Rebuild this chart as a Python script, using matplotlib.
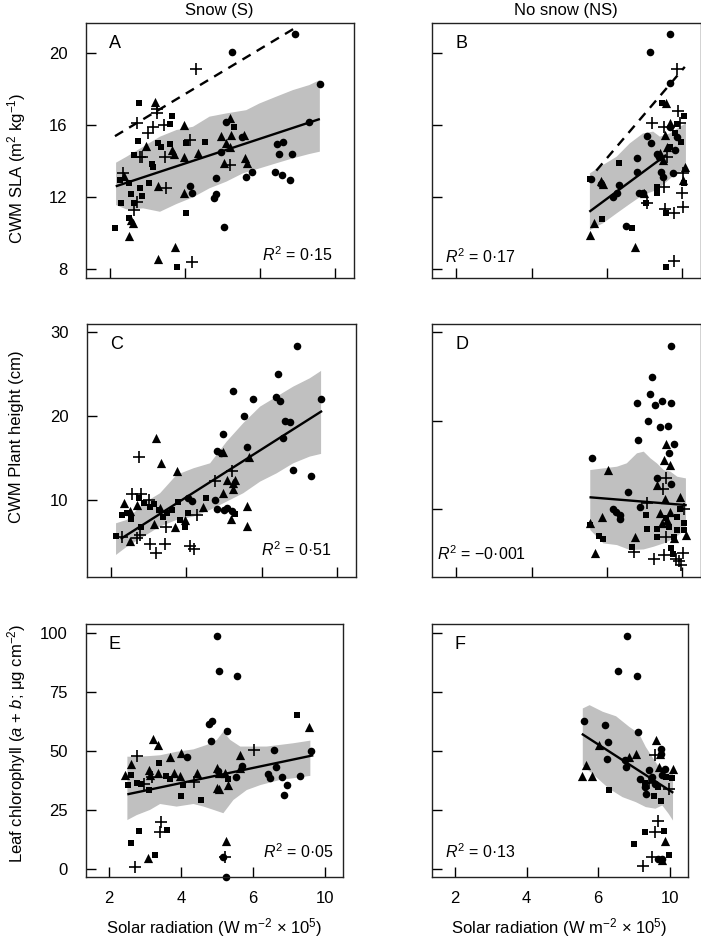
import matplotlib
matplotlib.use("Agg")
import matplotlib.pyplot as plt

plt.rcParams['font.family'] = ['Liberation Sans', 'DejaVu Sans']
plt.rcParams['mathtext.fontset'] = 'custom'
plt.rcParams['mathtext.rm'] = 'Liberation Sans'
plt.rcParams['mathtext.it'] = 'Liberation Sans:italic'
plt.rcParams['mathtext.bf'] = 'Liberation Sans:bold'

# x axis: positions 2, 4, 6, 8 carry the printed labels 2, 4, 6, 10
X_TICKS = [2, 4, 6, 8]
X_TICKLABELS = ['2', '4', '6', '10']

# ---- panel A : SLA, snow ----
A_CIRC = [(6.94, 21.02), (5.24, 20.06), (7.59, 18.28), (7.29, 16.18), (5.10, 16.14), (6.44, 14.97),
          (6.62, 15.07), (6.50, 14.38), (6.85, 14.38), (5.79, 13.39), (5.61, 13.10), (6.39, 13.39),
          (6.58, 13.21), (6.80, 12.95), (4.81, 13.08), (4.12, 12.63), (4.18, 12.21), (4.83, 12.15),
          (4.76, 11.95), (5.04, 10.36), (4.95, 14.5), (5.52, 15.35)]
A_SQ = [(2.77, 17.19), (3.66, 16.49), (3.59, 16.05), (2.75, 15.09), (3.28, 14.98), (3.37, 14.79),
        (3.59, 14.94), (4.02, 14.98), (4.54, 15.03), (2.65, 14.31), (3.11, 13.83), (3.15, 13.69),
        (2.27, 12.95), (2.51, 12.76), (3.04, 12.80), (2.80, 12.49), (2.55, 12.17), (2.84, 12.06),
        (2.30, 11.66), (2.64, 11.69), (2.51, 10.83), (2.13, 10.29), (4.02, 11.10), (3.79, 8.15),
        (5.29, 15.86)]
A_TRI = [(3.21, 17.25), (3.96, 15.99), (2.96, 14.82), (3.65, 14.61), (3.70, 14.38), (4.33, 14.42),
         (3.98, 14.24), (5.20, 16.36), (4.96, 15.38), (5.08, 15.01), (5.23, 15.44), (5.20, 14.79),
         (5.04, 13.87), (5.58, 15.44), (5.59, 14.17), (5.65, 13.87), (2.37, 13.17), (3.29, 12.63),
         (3.98, 12.21), (2.55, 10.74), (2.62, 10.59), (2.50, 9.85), (3.29, 8.55), (3.72, 9.22)]
A_PLUS = [(4.30, 19.08), (3.24, 16.68), (3.24, 16.9), (2.71, 16.09), (3.15, 15.90), (3.02, 15.57),
          (3.43, 15.99), (4.12, 15.16), (2.80, 14.24), (2.85, 14.24), (3.46, 14.24), (2.35, 13.32),
          (3.50, 12.49), (2.73, 11.75), (2.64, 11.29), (4.17, 8.42), (5.20, 13.78)]
A_FIT = [(2.18, 12.62), (7.56, 16.31)]
A_DASH = [(2.13, 15.38), (6.91, 21.35)]
A_BAND_HI = [(2.16, 13.91), (2.44, 14.24), (2.88, 14.79), (3.33, 15.35), (3.77, 15.72), (4.21, 15.90),
             (4.65, 16.46), (5.10, 16.64), (5.63, 16.82), (5.98, 17.19), (6.42, 17.56), (6.87, 17.93),
             (7.31, 18.21), (7.59, 18.49)]
A_BAND_LO = [(2.16, 11.56), (2.44, 11.32), (2.88, 11.38), (3.33, 11.19), (3.77, 11.62), (4.21, 11.99),
             (4.65, 12.49), (5.10, 12.86), (5.54, 13.32), (5.98, 13.59), (6.42, 13.87), (6.87, 14.15),
             (7.31, 14.39), (7.59, 14.52)]

# ---- panel B : SLA, no snow ----
B_CIRC = [(7.69, 21.02), (7.14, 20.06), (7.69, 18.30), (7.07, 15.38), (7.16, 15.01), (6.79, 14.17),
          (7.32, 14.38), (7.39, 14.24), (6.31, 12.65), (6.17, 12.03), (6.26, 12.21), (6.79, 13.41),
          (6.86, 12.21), (6.95, 12.21), (6.52, 10.40), (7.45, 13.41), (7.50, 13.13), (7.76, 13.32),
          (7.82, 14.61), (7.69, 15.90), (7.85, 15.35), (5.58, 13.02), (5.85, 12.75)]
B_SQ = [(5.55, 13.02), (6.31, 13.87), (7.46, 17.23), (8.05, 16.49), (7.85, 16.05), (7.96, 15.07),
        (7.81, 15.53), (7.32, 12.58), (7.32, 12.21), (7.05, 11.69), (7.57, 11.10), (8.06, 12.80),
        (5.88, 10.81), (6.68, 10.29), (7.57, 8.15), (7.67, 14.79)]
B_TRI = [(7.57, 17.23), (7.67, 16.09), (7.55, 15.42), (7.59, 14.79), (7.41, 14.42), (7.50, 14.06),
         (8.08, 13.69), (8.03, 12.95), (5.85, 12.91), (5.90, 12.75), (6.98, 12.21), (5.65, 10.55),
         (5.55, 9.90), (6.75, 9.26)]
B_PLUS = [(7.87, 19.08), (7.90, 16.77), (7.21, 16.12), (7.51, 15.90), (7.94, 16.12), (7.59, 14.24),
          (7.51, 12.58), (8.03, 13.32), (7.99, 12.21), (7.07, 11.66), (7.55, 11.32), (7.78, 11.10),
          (8.03, 11.43), (7.78, 8.48)]
B_FIT = [(5.56, 11.23), (7.55, 14.30)]
B_DASH = [(5.72, 13.47), (8.07, 19.22)]
B_BAND_HI = [(5.55, 13.32), (5.90, 13.78), (6.26, 14.24), (6.61, 14.98), (6.96, 15.53), (7.23, 15.63),
             (7.41, 15.35), (7.67, 15.53), (7.94, 15.90), (8.10, 16.09)]
B_BAND_LO = [(5.55, 10.18), (5.90, 10.55), (6.26, 11.10), (6.61, 11.62), (6.96, 12.12), (7.32, 12.39),
             (7.59, 12.86), (7.85, 13.32), (8.10, 13.59)]

# ---- panel C : height, snow ----
C_CIRC = [(6.93, 28.37), (6.44, 25.0), (5.23, 23.06), (5.76, 22.06), (6.38, 22.26), (6.49, 21.83),
          (7.58, 22.02), (5.53, 20.04), (4.98, 17.90), (4.81, 15.83), (4.93, 15.67), (5.62, 16.39),
          (6.61, 19.48), (6.75, 19.37), (6.56, 17.42), (6.84, 13.61), (7.30, 12.94), (4.76, 10.04),
          (4.81, 8.97), (5.07, 9.05), (5.00, 8.9), (4.05, 10.24), (4.14, 9.96), (5.21, 8.7)]
C_SQ = [(2.13, 5.79), (2.28, 8.25), (2.42, 8.45), (2.52, 7.74), (2.75, 10.24), (2.79, 6.87),
        (2.86, 9.64), (3.04, 9.25), (3.13, 9.5), (3.28, 8.85), (3.39, 8.06), (3.48, 8.53),
        (3.61, 8.85), (3.79, 9.80), (3.96, 6.87), (4.03, 8.53), (4.52, 10.24), (5.28, 8.33), (3.83, 7.66)]
C_TRI = [(3.19, 17.46), (3.33, 14.48), (3.76, 13.53), (2.33, 9.64), (2.49, 8.73), (2.68, 9.44),
         (3.14, 7.18), (3.30, 9.05), (3.69, 6.87), (3.97, 7.66), (4.45, 9.25), (4.96, 15.71),
         (5.67, 15.12), (5.07, 12.42), (5.23, 12.10), (5.28, 12.42), (4.98, 10.83), (5.23, 11.35),
         (5.62, 9.33), (5.60, 6.94), (5.18, 7.74), (2.50, 5.20)]
C_PLUS = [(2.75, 15.12), (2.55, 10.75), (2.80, 10.75), (3.0, 10.04), (2.29, 5.67), (2.70, 5.47),
          (3.04, 4.80), (3.19, 3.77), (3.43, 4.80), (3.46, 6.87), (4.10, 4.56), (4.19, 4.17),
          (4.27, 8.21), (4.77, 12.34), (5.20, 13.53), (2.77, 5.87)]
C_FIT = [(2.28, 5.48), (7.58, 20.56)]
C_BAND_HI = [(2.13, 7.26), (2.42, 7.66), (2.86, 9.64), (3.30, 10.83), (3.74, 13.02), (4.19, 13.81),
             (4.63, 14.40), (5.07, 16.98), (5.51, 19.17), (5.96, 21.15), (6.40, 22.34), (6.84, 23.53),
             (7.28, 24.52), (7.58, 25.40)]
C_BAND_LO = [(2.13, 3.49), (2.42, 4.48), (2.86, 5.67), (3.30, 6.87), (3.74, 7.66), (4.19, 8.06),
             (4.63, 8.85), (5.07, 9.84), (5.51, 10.83), (5.96, 12.22), (6.40, 13.21), (6.84, 14.40),
             (7.28, 15.20), (7.58, 15.52)]

# ---- panel D : height, no snow ----
D_CIRC = [(7.71, 28.46), (7.19, 24.92), (7.14, 23.0), (6.80, 21.98), (7.27, 21.79), (7.47, 22.28),
          (7.71, 21.98), (7.08, 20.0), (7.41, 19.34), (7.63, 19.45), (6.84, 17.83), (7.78, 17.38),
          (7.65, 16.33), (5.61, 15.76), (7.71, 12.86), (7.33, 13.50), (6.57, 12.0), (6.16, 10.08),
          (6.24, 9.74), (6.34, 8.87), (6.34, 9.32), (6.89, 10.23)]
D_SQ = [(5.56, 8.23), (5.80, 6.99), (5.91, 6.61), (6.66, 5.71), (7.07, 7.82), (7.03, 9.32),
        (7.33, 7.74), (7.33, 6.84), (7.71, 5.59), (7.64, 8.0), (7.78, 6.84), (7.85, 7.67),
        (8.04, 8.42), (8.06, 7.67), (7.58, 9.0), (7.76, 4.95), (7.94, 10.0), (7.87, 9.17)]
D_TRI = [(6.04, 14.44), (5.56, 8.42), (5.88, 9.17), (5.68, 5.03), (6.76, 6.84), (7.58, 17.38),
         (7.52, 15.57), (7.67, 15.01), (7.32, 12.75), (7.55, 11.21), (7.94, 11.43), (7.42, 9.62),
         (7.69, 9.74), (7.60, 8.79), (7.47, 8.42), (8.10, 7.10), (7.78, 6.72)]
D_PLUS = [(7.56, 13.58), (7.49, 12.34), (7.07, 10.68), (8.04, 10.0), (7.56, 6.91), (6.73, 5.18),
          (7.24, 4.35), (7.51, 4.80), (7.83, 4.35), (7.97, 3.67), (8.03, 5.03), (7.92, 4.2)]
D_FIT = [(5.57, 11.36), (8.09, 10.49)]
D_BAND_HI = [(5.56, 14.44), (5.91, 14.63), (6.27, 14.82), (6.53, 15.20), (6.80, 16.33), (6.98, 16.52),
             (7.16, 15.76), (7.33, 15.20), (7.51, 14.44), (7.69, 14.26), (7.87, 13.69), (8.10, 13.50)]
D_BAND_LO = [(5.56, 7.67), (5.91, 6.16), (6.27, 5.97), (6.62, 5.40), (6.98, 5.48), (7.24, 5.78),
             (7.51, 6.16), (7.78, 6.72), (7.96, 7.29), (8.10, 7.67)]

# ---- panel E : chlorophyll, snow ----
E_CIRC = [(5.0, 98.6), (5.07, 83.9), (5.56, 81.5), (4.79, 61.4), (4.86, 62.8), (5.28, 58.5),
          (4.83, 54.0), (6.60, 50.4), (7.62, 50.1), (4.16, 47.2), (5.71, 43.7), (6.65, 43.3),
          (5.54, 39.1), (6.41, 40.2), (6.47, 38.5), (6.82, 39.1), (7.32, 39.4), (6.95, 35.5),
          (6.87, 31.5), (5.17, 4.9), (5.26, -3.2), (5.03, 41.5)]
E_SQ = [(7.23, 65.2), (3.38, 44.7), (2.53, 35.5), (2.62, 39.8), (2.77, 36.2), (3.10, 33.4),
        (3.59, 39.4), (3.70, 38.0), (4.07, 35.5), (4.01, 30.9), (4.55, 29.2), (5.32, 37.9),
        (2.84, 16.2), (3.62, 16.5), (2.62, 10.9), (3.29, 5.8), (2.90, 36.0)]
E_TRI = [(7.56, 60.2), (3.22, 54.9), (3.35, 52.6), (3.70, 47.5), (3.99, 49.2), (2.60, 44.4),
         (2.45, 39.8), (3.12, 41.9), (3.14, 39.8), (3.35, 40.5), (3.81, 40.6), (3.98, 39.4),
         (4.46, 40.5), (5.0, 42.6), (5.06, 40.8), (5.22, 40.8), (5.65, 48.2), (5.65, 42.6),
         (5.0, 34.1), (5.07, 34.0), (5.31, 35.7), (5.26, 12.0), (3.07, 4.5)]
E_PLUS = [(2.79, 47.8), (6.04, 50.4), (3.20, 39.1), (2.96, 36.0), (4.35, 37.0), (3.44, 20.0),
          (3.42, 15.8), (2.73, 0.99), (5.22, 5.2)]
E_FIT = [(2.54, 31.7), (7.65, 48.0)]
E_BAND_HI = [(2.51, 47.5), (2.77, 47.5), (3.14, 47.8), (3.42, 48.1), (3.88, 49.6), (4.35, 50.6),
             (4.72, 52.5), (5.00, 54.6), (5.18, 58.1), (5.37, 54.6), (5.65, 51.8), (6.02, 51.8),
             (6.39, 51.8), (6.76, 52.5), (7.13, 53.2), (7.60, 54.3)]
E_BAND_LO = [(2.51, 20.7), (2.77, 22.8), (3.14, 25.0), (3.42, 27.5), (3.88, 26.4), (4.35, 27.5),
             (4.63, 26.4), (4.91, 25.0), (5.18, 23.6), (5.46, 29.2), (5.83, 33.4), (6.21, 35.5),
             (6.76, 37.7), (7.13, 38.4), (7.60, 39.4)]

# ---- panel F : chlorophyll, no snow ----
F_CIRC = [(6.81, 98.6), (6.55, 83.9), (7.09, 81.5), (5.61, 62.7), (6.18, 61.0), (7.12, 58.1),
          (6.28, 53.9), (6.24, 46.7), (6.74, 46.0), (6.79, 43.1), (7.75, 50.9), (7.75, 48.8),
          (7.16, 38.2), (7.33, 31.8), (7.31, 34.6), (7.86, 42.4), (7.68, 4.2), (7.79, 4.2),
          (7.50, 38.9), (7.79, 39.6), (7.42, 41.7), (7.6, 36.0)]
F_SQ = [(6.31, 33.5), (7.31, 36.4), (7.31, 15.6), (7.85, 16.0), (7.01, 10.6), (7.97, 5.8),
        (7.57, 30.8), (7.75, 28.7), (8.05, 38.5), (7.88, 39.0), (7.51, 37.5), (7.68, 34.9)]
F_TRI = [(5.65, 43.8), (5.54, 39.3), (5.83, 39.3), (6.02, 52.3), (7.05, 48.8), (6.87, 47.4),
         (7.61, 54.5), (7.72, 48.5), (8.08, 42.4), (7.86, 12.0), (7.79, 3.8), (7.70, 43.1)]
F_PLUS = [(7.59, 48.1), (7.99, 33.9), (7.68, 20.5), (7.60, 15.7), (7.24, 1.4), (7.51, 5.2), (7.42, 36.4)]
F_FIT = [(5.57, 56.9), (8.07, 32.5)]
F_BAND_HI = [(5.57, 67.9), (5.76, 69.3), (6.13, 66.5), (6.50, 64.6), (6.87, 60.1), (7.14, 57.3),
             (7.33, 51.6), (7.51, 47.4), (7.70, 43.1), (7.88, 41.7), (8.09, 40.3)]
F_BAND_LO = [(5.57, 43.8), (5.94, 38.9), (6.31, 33.9), (6.68, 30.4), (7.05, 28.3), (7.33, 26.2),
             (7.60, 25.5), (7.79, 26.9), (7.97, 23.3), (8.09, 20.5)]

R2_TEXT = {'A': '0·15', 'B': '0·17', 'C': '0·51', 'D': '\u22120·001', 'E': '0·05', 'F': '0·13'}

Y_LABELS = ['CWM SLA (m$^{2}$ kg$^{-1}$)',
            'CWM Plant height (cm)',
            'Leaf chlorophyll ($a$ + $b$; \u03bcg cm$^{-2}$)']
X_LABEL = 'Solar radiation (W m$^{-2}$ \u00d7 10$^{5}$)'

W, H = 701, 938
fig = plt.figure(figsize=(W / 100, H / 100), dpi=100)


def box(l, t, r, b):
    # pixel box -> figure fraction rect
    return [l / W, 1 - b / H, (r - l) / W, (b - t) / H]


panels = [
    ('A', box(85.7, 23, 354, 278), (7.52, 21.65), [8, 12, 16, 20], A_CIRC, A_SQ, A_TRI, A_PLUS,
     A_BAND_HI, A_BAND_LO, A_FIT, A_DASH, True, False, (0.922, 0.09, 'right')),
    ('B', box(431.7, 23, 701, 278), (7.52, 21.65), [8, 12, 16, 20], B_CIRC, B_SQ, B_TRI, B_PLUS,
     B_BAND_HI, B_BAND_LO, B_FIT, B_DASH, False, False, (0.05, 0.083, 'left')),
    ('C', box(86.7, 324.3, 355.7, 576.7), (0.9, 30.95), [10, 20, 30], C_CIRC, C_SQ, C_TRI, C_PLUS,
     C_BAND_HI, C_BAND_LO, C_FIT, None, True, False, (0.911, 0.106, 'right')),
    ('D', box(431.7, 324.3, 701, 576.7), (2.4, 30.9), [10, 20, 30], D_CIRC, D_SQ, D_TRI, D_PLUS,
     D_BAND_HI, D_BAND_LO, D_FIT, None, False, False, (0.019, 0.09, 'left')),
    ('E', box(85.7, 624.3, 342.7, 877.3), (-3.5, 103.5), [0, 25, 50, 75, 100], E_CIRC, E_SQ, E_TRI, E_PLUS,
     E_BAND_HI, E_BAND_LO, E_FIT, None, True, True, (0.966, 0.101, 'right')),
    ('F', box(431.7, 624.3, 687.7, 877.3), (-3.5, 103.5), [0, 25, 50, 75, 100], F_CIRC, F_SQ, F_TRI, F_PLUS,
     F_BAND_HI, F_BAND_LO, F_FIT, None, False, True, (0.052, 0.101, 'left')),
]

for (letter, rect, ylim, yticks, circ, sq, tri, plus, hi, lo, fit, dash,
     ylab, xlab, r2pos) in panels:
    ax = fig.add_axes(rect)
    # confidence band
    bx = [p[0] for p in hi] + [p[0] for p in lo[::-1]]
    by = [p[1] for p in hi] + [p[1] for p in lo[::-1]]
    ax.fill(bx, by, color='#c0c0c0', lw=0, zorder=1)

    for pts, mk, s, lw in [(circ, 'o', 30, 0), (sq, 's', 24, 0), (tri, '^', 44, 0), (plus, '+', 66, 1.2)]:
        ax.scatter([p[0] for p in pts], [p[1] for p in pts], marker=mk, s=s, c='black',
                   linewidths=lw, zorder=2, clip_on=False)

    ax.plot([p[0] for p in fit], [p[1] for p in fit], color='black', lw=1.7, zorder=3)
    if dash is not None:
        ax.plot([p[0] for p in dash], [p[1] for p in dash], color='black', lw=1.7,
                dashes=(4, 3), zorder=3)

    ax.set_xlim(1.35, 8.5)
    ax.set_ylim(*ylim)
    ax.set_xticks(X_TICKS)
    ax.set_yticks(yticks)
    ax.tick_params(direction='in', length=7, width=1, labelsize=12, color='black')
    ax.tick_params(axis='y', pad=13)
    ax.tick_params(axis='x', pad=10)
    if xlab:
        ax.set_xticklabels(X_TICKLABELS)
        ax.text(0.5, -0.2, X_LABEL, transform=ax.transAxes, ha='center', va='center', fontsize=12)
    else:
        ax.set_xticklabels([])
    if not ylab:
        ax.set_yticklabels([])
    for sp in ax.spines.values():
        sp.set_linewidth(1.0)
        sp.set_color('#222222')

    ax.text(0.088, 0.92, letter, transform=ax.transAxes, ha='left', va='center', fontsize=13)
    ax.text(r2pos[0], r2pos[1], '$R^{2}$ = ' + R2_TEXT[letter], transform=ax.transAxes,
            ha=r2pos[2], va='center', fontsize=11.5)

fig.text(17 / W, 1 - 168 / H, Y_LABELS[0], rotation=90, ha='center', va='center', fontsize=12)
fig.text(17 / W, 1 - 437 / H, Y_LABELS[1], rotation=90, ha='center', va='center', fontsize=12)
fig.text(17 / W, 1 - 743 / H, Y_LABELS[2], rotation=90, ha='center', va='center', fontsize=12)

fig.text(219 / W, 1 - 11 / H, 'Snow (S)', ha='center', va='center', fontsize=12)
fig.text(566 / W, 1 - 11 / H, 'No snow (NS)', ha='center', va='center', fontsize=12)

fig.savefig('out.png', dpi=100)
